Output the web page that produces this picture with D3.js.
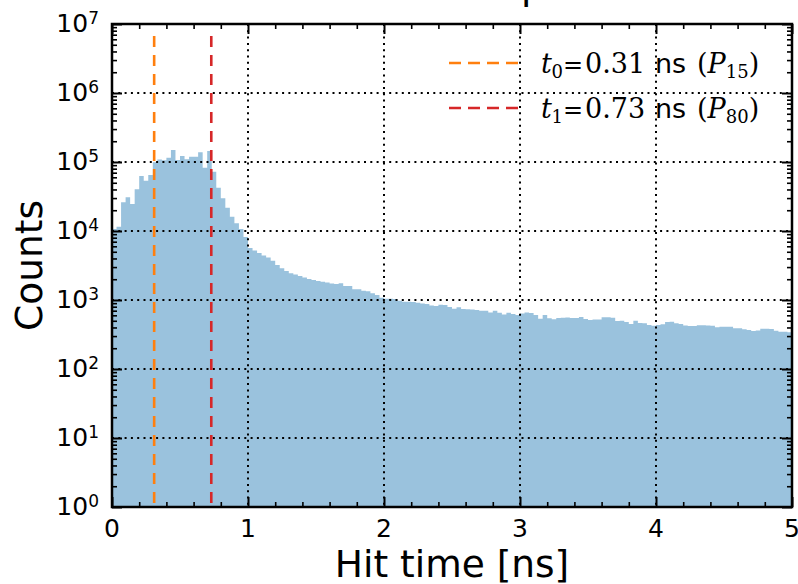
<!DOCTYPE html>
<html><head><meta charset="utf-8">
<script src="https://cdn.jsdelivr.net/npm/d3@7"></script>
<style>
html,body{margin:0;padding:0;background:#fff;}
svg{display:block;}
text{font-family:"DejaVu Sans",sans-serif;fill:#000;}
.serif{font-family:"DejaVu Serif",serif;}
</style></head>
<body>
<script>
// ---- data ----
const binCount = 150;
const xDomain = [0, 5];
const counts = [
 10700,11500,26000,30800,24600,40200,62700,53600,64800,99000,
 109000,106000,115000,149000,107000,122000,110000,119000,119000,138000,
 82600,144000,72300,42400,29800,21800,16100,12900,10700,8190,
 5670,5210,4800,4410,4130,3710,3210,2880,2630,2440,
 2340,2230,2120,2010,1950,1880,1840,1790,1730,1710,
 1750,1600,1600,1430,1430,1360,1340,1250,1180,1080,
 1040,1040,1030,977,945,945,935,914,890,875,
 832,818,855,847,792,748,784,741,733,728,
 716,700,700,659,700,655,617,655,627,606,
 637,659,648,606,535,606,543,525,548,554,
 557,548,548,567,531,513,521,521,561,561,
 554,496,501,480,449,501,464,460,434,425,
 434,444,480,485,460,449,427,420,420,430,
 430,427,425,402,410,410,410,389,389,376,
 367,355,361,384,383,380,359,347,347,340
];
const xMajorTicks = [0,1,2,3,4,5];
const yMajorTicks = [1,1e1,1e2,1e3,1e4,1e5,1e6,1e7];
const yTickExp = ["0","1","2","3","4","5","6","7"];
const t0 = 0.31, t1 = 0.73;
const legendLines = [
  {v:"0.31", idx:"0", p:"15", color:"#ff7f0e"},
  {v:"0.73", idx:"1", p:"80", color:"#d62728"}
];

// ---- layout ----
const W=798,H=584;
const L=112,R=792,T=24,B=507;
const svg=d3.select("body").append("svg").attr("width",W).attr("height",H);
const x=d3.scaleLinear().domain(xDomain).range([L,R]);
const y=d3.scaleLog().domain([1,1e7]).range([B,T]);

const binW=(xDomain[1]-xDomain[0])/binCount;
const steps=counts.map((c,i)=>({x0:xDomain[0]+i*binW,c}));
steps.push({x0:xDomain[1],c:counts[counts.length-1]});

svg.append("path").datum(steps)
 .attr("fill","#9ac2dd")
 .attr("d",d3.area().curve(d3.curveStepAfter)
   .x(d=>x(d.x0)).y0(y(1)).y1(d=>y(d.c)));

// grid
const g=svg.append("g");
g.selectAll(".gx").data(xMajorTicks.filter(v=>v>0&&v<5)).enter().append("line")
 .attr("x1",d=>x(d)).attr("x2",d=>x(d)).attr("y1",T).attr("y2",B)
 .attr("stroke","#000").attr("stroke-width",2).attr("stroke-dasharray","2,4.3");
g.selectAll(".gy").data(yMajorTicks.filter(v=>v>1&&v<1e7)).enter().append("line")
 .attr("y1",d=>y(d)).attr("y2",d=>y(d)).attr("x1",L).attr("x2",R)
 .attr("stroke","#000").attr("stroke-width",2).attr("stroke-dasharray","2,4.3");

// vertical dashed lines
[[t0,"#ff7f0e"],[t1,"#d62728"]].forEach(([v,c])=>{
 svg.append("line").attr("x1",x(v)).attr("x2",x(v)).attr("y1",T+12).attr("y2",B)
  .attr("stroke",c).attr("stroke-width",2.6).attr("stroke-dasharray","11,8");
});

// ticks (inward, all four sides)
const xMinor=d3.range(0,5.0001,0.2).filter(v=>Math.abs(v-Math.round(v))>1e-6);
const yMinor=[];
for(let d=0;d<7;d++) for(let k=2;k<=9;k++) yMinor.push(k*Math.pow(10,d));
function styleAxis(sel,w){sel.select(".domain").remove();sel.selectAll("line").attr("stroke","#000").attr("stroke-width",w);sel.selectAll("text").remove();}
svg.append("g").attr("transform",`translate(0,${B})`).call(d3.axisBottom(x).tickValues(xMajorTicks).tickSize(-10)).call(s=>styleAxis(s,2));
svg.append("g").attr("transform",`translate(0,${B})`).call(d3.axisBottom(x).tickValues(xMinor).tickSize(-5)).call(s=>styleAxis(s,1.6));
svg.append("g").attr("transform",`translate(0,${T})`).call(d3.axisTop(x).tickValues(xMajorTicks).tickSize(-10)).call(s=>styleAxis(s,2));
svg.append("g").attr("transform",`translate(0,${T})`).call(d3.axisTop(x).tickValues(xMinor).tickSize(-5)).call(s=>styleAxis(s,1.6));
svg.append("g").attr("transform",`translate(${L},0)`).call(d3.axisLeft(y).tickValues(yMajorTicks).tickSize(-10)).call(s=>styleAxis(s,2));
svg.append("g").attr("transform",`translate(${L},0)`).call(d3.axisLeft(y).tickValues(yMinor).tickSize(-5)).call(s=>styleAxis(s,1.6));
svg.append("g").attr("transform",`translate(${R},0)`).call(d3.axisRight(y).tickValues(yMajorTicks).tickSize(-10)).call(s=>styleAxis(s,2));
svg.append("g").attr("transform",`translate(${R},0)`).call(d3.axisRight(y).tickValues(yMinor).tickSize(-5)).call(s=>styleAxis(s,1.6));

// frame
svg.append("rect").attr("x",L).attr("y",T).attr("width",R-L).attr("height",B-T)
 .attr("fill","none").attr("stroke","#000").attr("stroke-width",2.5);

// tick labels
svg.selectAll(".xl").data(xMajorTicks).enter().append("text")
 .attr("x",d=>x(d)).attr("y",537).attr("text-anchor","middle")
 .attr("font-size",25).text(d=>d);
const yl=svg.selectAll(".yl").data(yMajorTicks).enter().append("text")
 .attr("x",99).attr("y",d=>y(d)+8).attr("text-anchor","end").attr("font-size",25);
yl.append("tspan").text("10");
yl.append("tspan").attr("font-size",17).attr("dy",-8).text((d,i)=>yTickExp[i]);

// axis labels
svg.append("text").attr("x",452).attr("y",577).attr("text-anchor","middle")
 .attr("font-size",37.5).text("Hit time [ns]");
svg.append("text").attr("transform",`translate(42,${(T+B)/2}) rotate(-90)`)
 .attr("text-anchor","middle").attr("font-size",37.5).text("Counts");

// legend
legendLines.forEach((l,i)=>{
 const cy=63+i*45, by=cy+10;
 svg.append("line").attr("x1",449).attr("x2",518).attr("y1",cy).attr("y2",cy)
  .attr("stroke",l.color).attr("stroke-width",2.6).attr("stroke-dasharray","12,7");
 const t=svg.append("text").attr("y",by).attr("font-size",27);
 t.append("tspan").attr("class","serif").attr("x",541).attr("font-style","italic").text("t");
 t.append("tspan").attr("class","serif").attr("x",551.5).attr("dy",5).attr("font-size",18).text(l.idx);
 t.append("tspan").attr("class","serif").attr("x",563).attr("dy",-5).attr("font-size",24).text("=");
 t.append("tspan").attr("class","serif").attr("x",585).text(l.v);
 t.append("tspan").attr("x",655).text("ns");
 t.append("tspan").attr("class","serif").attr("x",697).text("(");
 t.append("tspan").attr("class","serif").attr("font-style","italic").text("P");
 t.append("tspan").attr("class","serif").attr("dy",5).attr("font-size",18).text(l.p);
 t.append("tspan").attr("class","serif").attr("dy",-5).text(")");
});

// clipped title fragment at top edge
svg.append("text").attr("x",521).attr("y",-1).attr("font-size",38).text("p");
</script>
</body></html>
